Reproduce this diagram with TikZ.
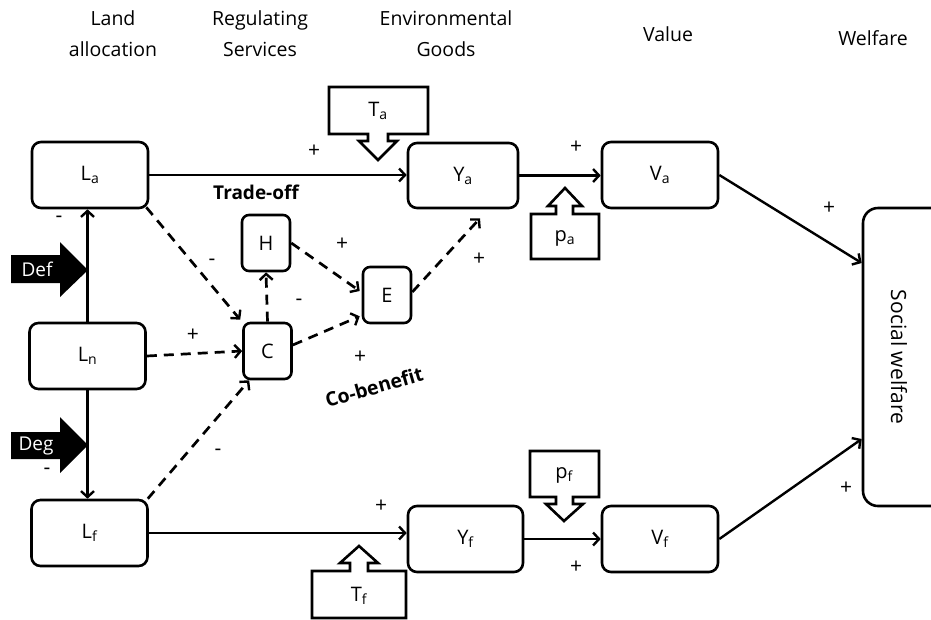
\documentclass[tikz,border=0pt]{standalone}
\usepackage{fontspec}
\setmainfont{Open Sans}
\usetikzlibrary{arrows.meta,calc}
\begin{document}
\begin{tikzpicture}[x=1pt,y=-1pt,
  box/.style={draw,line width=2.6pt,rounded corners=9pt,inner sep=0pt,font=\fontsize{20}{22}\selectfont},
  sbox/.style={box,rounded corners=7pt,minimum width=48pt,minimum height=56pt},
  bbox/.style={box,minimum width=116pt,minimum height=66pt},
  arr/.style={line width=2.4pt,-{Straight Barb[length=6pt,width=13pt,line width=2.4pt]}},
  darr/.style={arr,line width=2.7pt,dash pattern=on 10pt off 7pt},
  sign/.style={font=\fontsize{21}{23}\selectfont,inner sep=0pt},
  head/.style={font=\fontsize{19.5}{31}\selectfont,align=center,inner sep=0pt},
  callout/.style={draw,line width=2.6pt,fill=white,line join=miter},
  blk/.style={fill=black},
]
\useasboundingbox (0,0) rectangle (931,619);
% headers
\node[head] (h1) at (113,34) {Land\\allocation};
\node[head] (h2) at (260,34) {Regulating\\Services};
\node[head] (h3) at (446,34) {Environmental\\Goods};
\node[head] (h4) at (668,34) {Value};
\node[head] (h5) at (873,38) {Welfare};
% boxes
\node[bbox] (La) at (90,175) {L\textsubscript{a}};
\node[bbox] (Ln) at (87.5,356) {L\textsubscript{n}};
\node[bbox] (Lf) at (89.5,533) {L\textsubscript{f}};
\node[sbox] (H) at (266,243) {H};
\node[sbox] (C) at (267.5,351) {C};
\node[sbox] (E) at (387,295) {E};
\node[bbox,minimum width=110pt,minimum height=65pt] (Ya) at (463,175.5) {Y\textsubscript{a}};
\node[bbox] (Va) at (660,175) {V\textsubscript{a}};
\node[bbox,minimum width=115pt] (Yf) at (465.5,539) {Y\textsubscript{f}};
\node[bbox] (Vf) at (660,539) {V\textsubscript{f}};
\node[box,rounded corners=15pt,minimum width=86pt,minimum height=298pt] (SW) at (906,357) {};
\node[font=\fontsize{21}{23}\selectfont,rotate=-90,inner sep=0pt] (SWt) at (899,357) {Social welfare};
% Def / Deg block arrows
\fill[blk] (11,255) -- (60,255) -- (60,242) -- (88,270) -- (60,297) -- (60,283) -- (11,283) -- cycle;
\node[text=white,font=\fontsize{19}{21}\selectfont,inner sep=0pt] (def) at (37,269) {Def};
\fill[blk] (11,432) -- (60,432) -- (60,417) -- (88,445) -- (60,473) -- (60,459) -- (11,459) -- cycle;
\node[text=white,font=\fontsize{19}{21}\selectfont,inner sep=0pt] (deg) at (36,446) {Deg};
% land flows
\draw[arr] (Ln.north) -- (Ln.north |- La.south);
\draw[arr] (Ln.south) -- (Ln.south |- Lf.north);
% solid flows
\draw[arr] (La.east) -- (La.east -| Ya.west);
\draw[arr] (Ya.east) -- (Ya.east -| Va.west);
\draw[arr] (Lf.east) -- (Lf.east -| Yf.west);
\draw[arr] (Yf.east) -- (Yf.east -| Vf.west);
\draw[arr] (Va.east) -- ([yshift=94pt]SW.west);
\draw[arr] (Vf.east) -- ([yshift=-82pt]SW.west);
% dashed flows
\draw[darr] ([xshift=-3pt,yshift=2pt]La.south east) -- ([xshift=-2pt,yshift=2pt]C.north west);
\draw[darr] (Ln.east) -- (C.west);
\draw[darr] ([xshift=-1pt]Lf.north east) -- ([xshift=7pt]C.south west);
\draw[darr] (C.north) -- (H.south);
\draw[darr] ([yshift=6pt]C.east) -- ([xshift=-2pt,yshift=8pt]E.south west);
\draw[darr] (H.east) -- ([xshift=-2pt,yshift=4pt]E.west);
\draw[darr] ([yshift=3pt]E.east) -- ([xshift=17pt,yshift=-9pt]Ya.south);
% callouts
\draw[callout] (329,87) -- (428,87) -- (428,134) -- (388,134) -- (388,141) -- (397,141) -- (378,160) -- (359,141) -- (368,141) -- (368,134) -- (329,134) -- cycle;
\node[font=\fontsize{20}{22}\selectfont,inner sep=0pt] (Ta) at (378,111) {T\textsubscript{a}};
\draw[callout] (531,259) -- (599,259) -- (599,214) -- (573,214) -- (573,206) -- (582,206) -- (565,188) -- (548,206) -- (556,206) -- (556,214) -- (531,214) -- cycle;
\node[font=\fontsize{20}{22}\selectfont,inner sep=0pt] (pa) at (565,238) {p\textsubscript{a}};
\draw[callout] (530,451) -- (599,451) -- (599,497) -- (573,497) -- (573,504) -- (583,504) -- (564,521) -- (546,504) -- (556,504) -- (556,497) -- (530,497) -- cycle;
\node[font=\fontsize{20}{22}\selectfont,inner sep=0pt] (pf) at (564,475) {p\textsubscript{f}};
\draw[callout] (312,618) -- (406,618) -- (406,571) -- (368,571) -- (368,563) -- (378,563) -- (359,546) -- (340,563) -- (350,563) -- (350,571) -- (312,571) -- cycle;
\node[font=\fontsize{20}{22}\selectfont,inner sep=0pt] (Tf) at (359,596) {T\textsubscript{f}};
% labels
\node[font=\bfseries\fontsize{19}{21}\selectfont,inner sep=0pt] (to) at (256,192) {Trade-off};
\node[font=\bfseries\fontsize{19.5}{21}\selectfont,inner sep=0pt,rotate=16] (cb) at (374,387) {Co-benefit};
\node[sign] (s1) at (314,151) {+};
\node[sign] (s2) at (576,147) {+};
\node[sign] (s3) at (59,219) {-};
\node[sign] (s4) at (212,262) {-};
\node[sign] (s5) at (342,244) {+};
\node[sign] (s6) at (299,302) {-};
\node[sign] (s7) at (479,259) {+};
\node[sign] (s8) at (193,335) {+};
\node[sign] (s9) at (360,357) {+};
\node[sign] (s10) at (47,471) {-};
\node[sign] (s11) at (218,452) {-};
\node[sign] (s12) at (381,506) {+};
\node[sign] (s13) at (576,567) {+};
\node[sign] (s14) at (829,208) {+};
\node[sign] (s15) at (846,488) {+};
\end{tikzpicture}
\end{document}
